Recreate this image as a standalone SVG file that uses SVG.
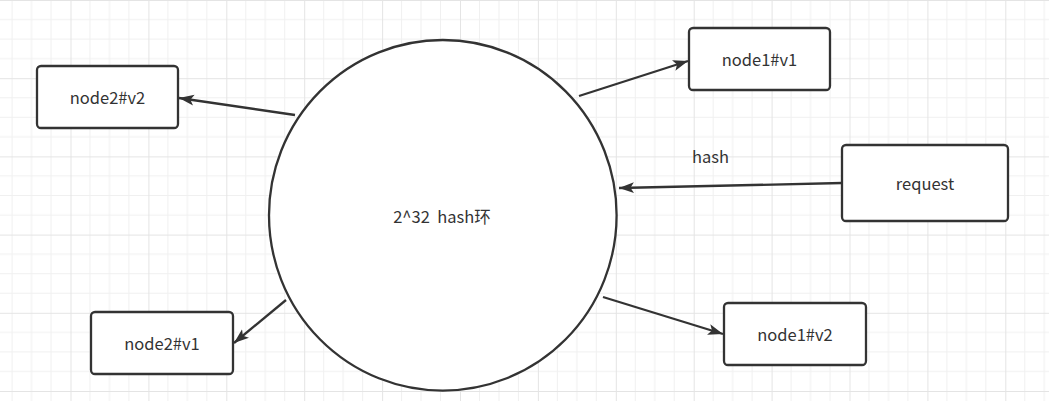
<svg xmlns="http://www.w3.org/2000/svg" width="1049" height="401" viewBox="0 0 1049 401">
  <style>
    .box { fill: #ffffff; stroke: #333333; stroke-width: 2.3; }
    .lbl { font-family: "Noto Sans CJK SC", "Noto Sans", sans-serif; font-size: 16.5px; fill: #333333; text-anchor: middle; dominant-baseline: central; }
    .edge { fill: none; stroke: #333333; stroke-width: 2.3; marker-end: url(#arrow); }
    .minor { stroke: #f0f0f0; stroke-width: 1; }
    .major { stroke: #e4e4e4; stroke-width: 1; }
  </style>
  <defs>
    <pattern id="grid" patternUnits="userSpaceOnUse" x="70.5" y="0" width="77.9" height="78.2">
      <line class="minor" x1="19.475" y1="0" x2="19.475" y2="78.2"/>
      <line class="minor" x1="38.95" y1="0" x2="38.95" y2="78.2"/>
      <line class="minor" x1="58.425" y1="0" x2="58.425" y2="78.2"/>
      <line class="minor" x1="0" y1="19.55" x2="77.9" y2="19.55"/>
      <line class="minor" x1="0" y1="39.1" x2="77.9" y2="39.1"/>
      <line class="minor" x1="0" y1="58.65" x2="77.9" y2="58.65"/>
      <line class="major" x1="0.5" y1="0" x2="0.5" y2="78.2"/>
      <line class="major" x1="0" y1="0.5" x2="77.9" y2="0.5"/>
    </pattern>
    <marker id="arrow" markerUnits="userSpaceOnUse" markerWidth="17" markerHeight="13" refX="15" refY="6" orient="auto">
      <path d="M0,0.5 L15,6 L0,11.5 L3.5,6 z" fill="#333333"/>
    </marker>
  </defs>
  <rect x="0" y="0" width="1049" height="401" fill="#ffffff"/>
  <rect x="0" y="0" width="1049" height="401" fill="url(#grid)"/>

  <g id="connectors">
    <path class="edge" d="M579,96 L688,61"/>
    <path class="edge" d="M842,183 L619,188"/>
    <path class="edge" d="M295,115 L179,98"/>
    <path class="edge" d="M286,300 L234,343"/>
    <path class="edge" d="M603,297 L723,334"/>
    <text class="lbl" x="710.5" y="156">hash</text>
  </g>

  <g id="ring">
    <ellipse cx="442.8" cy="215.3" rx="173.8" ry="175.3" fill="#ffffff" stroke="#333333" stroke-width="2.3"/>
    <text class="lbl" x="442" y="216" xml:space="preserve">2^32  hash环</text>
  </g>

  <g id="node2v2">
    <rect class="box" x="37" y="66" width="141" height="62" rx="4"/>
    <text class="lbl" x="107.5" y="97">node2#v2</text>
  </g>

  <g id="node1v1">
    <rect class="box" x="689" y="28" width="141" height="62" rx="4"/>
    <text class="lbl" x="759.5" y="59">node1#v1</text>
  </g>

  <g id="request">
    <rect class="box" x="842" y="145" width="166" height="76" rx="4"/>
    <text class="lbl" x="925" y="183">request</text>
  </g>

  <g id="node2v1">
    <rect class="box" x="91" y="312" width="142" height="62" rx="4"/>
    <text class="lbl" x="162" y="343">node2#v1</text>
  </g>

  <g id="node1v2">
    <rect class="box" x="724" y="303" width="142" height="62" rx="4"/>
    <text class="lbl" x="795" y="334">node1#v2</text>
  </g>
</svg>
